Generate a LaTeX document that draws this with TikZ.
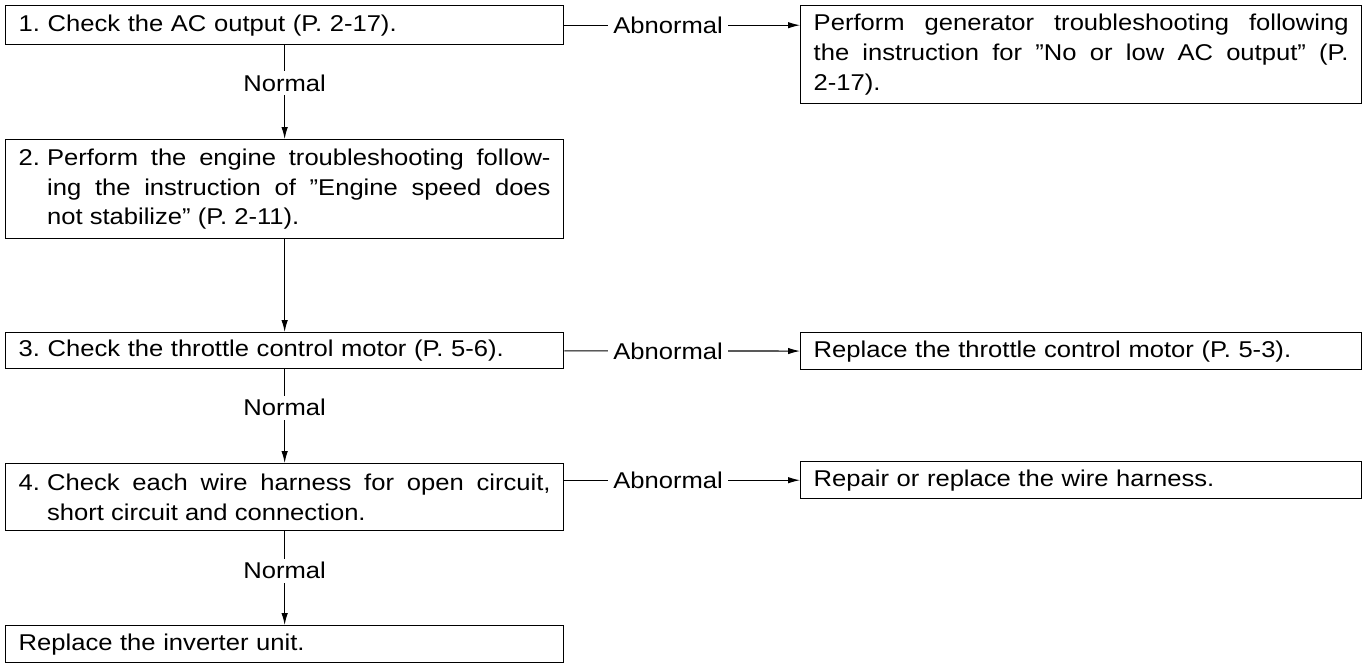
\documentclass[tikz,border=0pt]{standalone}
\usepackage{fontspec}
\setmainfont[FakeStretch=1.12]{Liberation Sans}
\usetikzlibrary{arrows.meta}

% number with hanging indent for the following lines
\newsavebox\numbox
\newcommand{\numitem}[2]{\sbox\numbox{#1\ }\hangindent=\wd\numbox \hangafter=1
  \noindent\usebox\numbox#2\par}

\begin{document}
\begin{tikzpicture}[x=0.02cm,y=-0.02cm,
    box/.style={draw,line width=0.8pt,anchor=north west,inner xsep=0.26cm,inner ysep=0pt,
      font=\fontsize{13}{17}\selectfont},
    lbox/.style={box,text width=10.64cm,minimum width=11.16cm},
    rbox/.style={box,text width=10.70cm,minimum width=11.22cm},
    conn/.style={line width=0.6pt,-{Latex[length=2.4mm,width=1.3mm]}},
    tag/.style={fill=white,inner xsep=2.8pt,inner ysep=2pt,font=\fontsize{13}{17}\selectfont}]
  \useasboundingbox (0,0) rectangle (1371,664);

  % left column
  \node[lbox,minimum height=0.78cm,align=left] (s1) at (5,5)
    {1.\ Check the AC output (P.~2-17).};
  \node[lbox,minimum height=1.98cm,align=justify] (s2) at (5,139)
    {\numitem{2.}{Perform the engine troubleshooting follow-\linebreak
     ing the instruction of ''Engine speed does\linebreak
     not stabilize'' (P.~2-11).}};
  \node[lbox,minimum height=0.72cm,align=left] (s3) at (5,332)
    {3.\ Check the throttle control motor (P.~5-6).};
  \node[lbox,minimum height=1.34cm,align=justify] (s4) at (5,463)
    {\numitem{4.}{Check each wire harness for open circuit,\linebreak
     short circuit and connection.}};
  \node[lbox,minimum height=0.74cm,align=left] (s5) at (5,625)
    {Replace the inverter unit.};

  % right column
  \node[rbox,minimum height=1.96cm,align=justify] (r1) at (800,5)
    {Perform generator troubleshooting following\linebreak
     the instruction for ''No or low AC output'' (P.\linebreak
     2-17).\par};
  \node[rbox,minimum height=0.74cm,align=left] (r3) at (800,332)
    {Replace the throttle control motor (P.~5-3).};
  \node[rbox,minimum height=0.74cm,align=left] (r4) at (800,461)
    {Repair or replace the wire harness.};

  % connectors
  \draw[conn] (s1) -- node[tag,pos=0.4] {Normal} (s2);
  \draw[conn] (s2) -- (s3);
  \draw[conn] (s3) -- node[tag,pos=0.41] {Normal} (s4);
  \draw[conn] (s4) -- node[tag,pos=0.42] {Normal} (s5);

  \draw[conn] (s1) -- node[tag,pos=0.44] {Abnormal} (s1 -| r1.west);
  \draw[conn] (s3) -- node[tag,pos=0.44] {Abnormal} (r3);
  \draw[conn] (s4.east |- r4) -- node[tag,pos=0.44] {Abnormal} (r4);
\end{tikzpicture}
\end{document}
